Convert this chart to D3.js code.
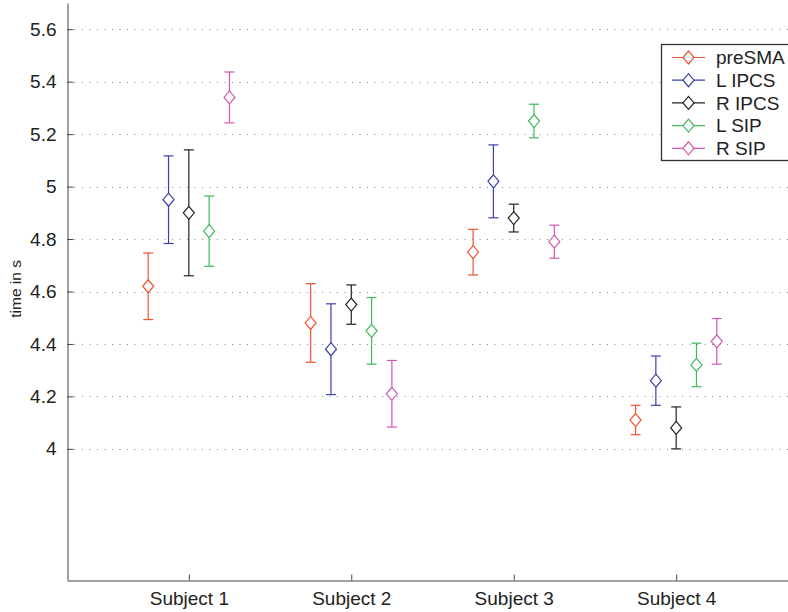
<!DOCTYPE html>
<html>
<head>
<meta charset="utf-8">
<script src="https://cdn.jsdelivr.net/npm/d3@7"></script>
<style>
  html, body { margin: 0; padding: 0; background: #fff; }
  svg { display: block; }
  text { font-family: "Liberation Sans", Arial, Helvetica, sans-serif; fill: #222; }
</style>
</head>
<body>
<svg id="chart" width="788" height="612"></svg>
<script>
// Mean response time per subject and region, with half-width of the error bar
const subjects = ["Subject 1", "Subject 2", "Subject 3", "Subject 4"];
const regions = ["preSMA", "L IPCS", "R IPCS", "L SIP", "R SIP"];
const colors = ["#ee5533", "#3a40a8", "#222222", "#40b85a", "#d257b0"];

const preSMA = [4.62, 4.48, 4.75, 4.11];
const lIPCS  = [4.95, 4.38, 5.02, 4.26];
const rIPCS  = [4.90, 4.55, 4.88, 4.08];
const lSIP   = [4.83, 4.45, 5.25, 4.32];
const rSIP   = [5.34, 4.21, 4.79, 4.41];

const preSMAErr = [0.127, 0.150, 0.087, 0.056];
const lIPCSErr  = [0.167, 0.173, 0.139, 0.094];
const rIPCSErr  = [0.240, 0.075, 0.053, 0.080];
const lSIPErr   = [0.134, 0.127, 0.064, 0.083];
const rSIPErr   = [0.097, 0.127, 0.063, 0.087];

const yTicks = [4, 4.2, 4.4, 4.6, 4.8, 5, 5.2, 5.4, 5.6];

const means = [preSMA, lIPCS, rIPCS, lSIP, rSIP];
const errs = [preSMAErr, lIPCSErr, rIPCSErr, lSIPErr, rSIPErr];
const offsets = [-0.25, -0.125, 0, 0.125, 0.25];

const svg = d3.select("#chart");
const W = 788, H = 612;
const margin = { left: 67, top: 3, bottom: 32 };
const plotRight = 798; // axes extend past the page's right edge

const x = d3.scaleLinear().domain([0.25, 4.75]).range([margin.left, plotRight]);
const y = d3.scaleLinear().domain([3.5, 5.7]).range([H - margin.bottom, margin.top]);

// dotted horizontal grid
svg.append("g").selectAll("line").data(yTicks).join("line")
  .attr("x1", margin.left).attr("x2", W)
  .attr("y1", d => Math.round(y(d)) + 0.5).attr("y2", d => Math.round(y(d)) + 0.5)
  .attr("stroke", "#888").attr("stroke-width", 1)
  .attr("stroke-dasharray", "1,6.5");

// y axis with inward ticks
const yAxis = d3.axisLeft(y).tickValues(yTicks).tickSizeInner(-6).tickSizeOuter(0)
  .tickPadding(11).tickFormat(d3.format("~g"));
const gy = svg.append("g").attr("transform", `translate(${margin.left + 0.5},0)`).call(yAxis);
gy.select(".domain").attr("stroke", "#444");
gy.selectAll(".tick line").attr("stroke", "#444");
gy.selectAll(".tick text").attr("font-size", 19).attr("fill", "#222")
  .attr("font-family", "'Liberation Sans', Arial, sans-serif");

// x axis with inward ticks
const xAxis = d3.axisBottom(x).tickValues([1, 2, 3, 4]).tickSizeInner(-6).tickSizeOuter(0)
  .tickPadding(11).tickFormat(d => subjects[d - 1]);
const gx = svg.append("g").attr("transform", `translate(0,${H - margin.bottom + 0.5})`).call(xAxis);
gx.select(".domain").attr("stroke", "#444");
gx.selectAll(".tick line").attr("stroke", "#444");
gx.selectAll(".tick text").attr("font-size", 19).attr("fill", "#222")
  .attr("font-family", "'Liberation Sans', Arial, sans-serif");

// y axis title
svg.append("text")
  .attr("transform", `translate(21,${y(4.61)}) rotate(-90)`)
  .attr("text-anchor", "middle").attr("font-size", 15.5)
  .text("time in s");

// error bars and diamond markers
const dw = 5.5, dh = 6.5, cap = 5;
const diamond = (cx, cy) => `M${cx},${cy - dh}L${cx + dw},${cy}L${cx},${cy + dh}L${cx - dw},${cy}Z`;

regions.forEach((r, ri) => {
  const g = svg.append("g");
  const pts = subjects.map((s, si) => ({ si, m: means[ri][si], e: errs[ri][si] }));
  pts.forEach(p => {
    const cx = x(p.si + 1 + offsets[ri]);
    const yt = y(p.m + p.e), yb = y(p.m - p.e), cy = y(p.m);
    g.append("line").attr("x1", cx).attr("x2", cx).attr("y1", yt).attr("y2", yb)
      .attr("stroke", colors[ri]).attr("stroke-width", 1.2);
    g.append("line").attr("x1", cx - cap).attr("x2", cx + cap).attr("y1", yt).attr("y2", yt)
      .attr("stroke", colors[ri]).attr("stroke-width", 1.2);
    g.append("line").attr("x1", cx - cap).attr("x2", cx + cap).attr("y1", yb).attr("y2", yb)
      .attr("stroke", colors[ri]).attr("stroke-width", 1.2);
    g.append("path").attr("d", diamond(cx, cy))
      .attr("fill", "#fff").attr("stroke", colors[ri]).attr("stroke-width", 1.2);
  });
});

// legend
const lg = svg.append("g");
lg.append("rect").attr("x", 661.5).attr("y", 44.5).attr("width", 140).attr("height", 116)
  .attr("fill", "#fff").attr("stroke", "#333").attr("stroke-width", 1.3);
regions.forEach((r, ri) => {
  const ly = 57.5 + ri * 22.7;
  lg.append("line").attr("x1", 672).attr("x2", 705).attr("y1", ly).attr("y2", ly)
    .attr("stroke", colors[ri]).attr("stroke-width", 1.2);
  lg.append("path").attr("d", diamond(688.5, ly)).attr("fill", "#fff")
    .attr("stroke", colors[ri]).attr("stroke-width", 1.2);
  lg.append("text").attr("x", 716).attr("y", ly).attr("dy", "0.36em")
    .attr("font-size", 19).text(r);
});
</script>
</body>
</html>
